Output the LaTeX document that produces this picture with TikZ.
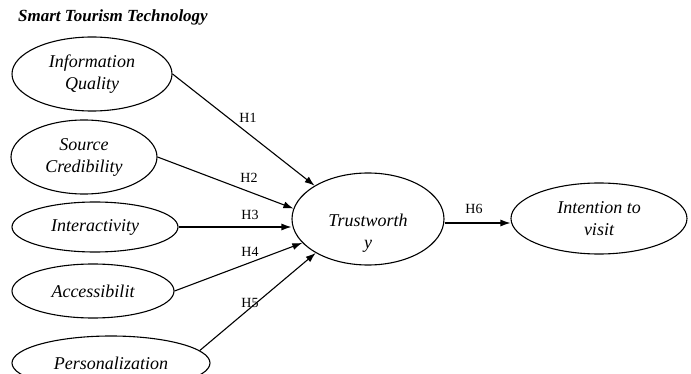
\documentclass[tikz,border=0pt]{standalone}
\usepackage{fontspec}
\setmainfont{Liberation Serif}
\usetikzlibrary{shapes.geometric,arrows.meta}

\tikzset{
  construct text/.style={align=center, font=\fontsize{18}{22}\selectfont\itshape},
  construct/.style={draw, ellipse, line width=1.1pt, inner sep=0pt, construct text},
  path link/.style={draw, line width=1.1pt, -{Latex[length=10pt,width=7pt]}},
  hyp/.style={font=\fontsize{14}{16}\selectfont, inner sep=0pt},
}

\begin{document}
\begin{tikzpicture}[x=1pt, y=-1pt]
  \useasboundingbox (0,0) rectangle (691,374);
  \clip (0,0) rectangle (691,374);

  \node[anchor=base west, inner sep=0pt,
        font=\fontsize{17}{20}\selectfont\bfseries\itshape] (title) at (18,22)
        {Smart Tourism Technology};

  % exogenous constructs
  \node[construct, minimum width=160pt, minimum height=74pt] (iq) at (92,74)
        {Information\\Quality};
  \node[construct, minimum width=146pt, minimum height=74pt] (sc) at (84,157)
        {Source\\Credibility};
  \node[construct, minimum width=166pt, minimum height=50pt] (ia) at (95,227)
        {Interactivity};
  \node[construct, minimum width=162pt, minimum height=54pt] (ac) at (93,291)
        {Accessibilit};
  \node[construct, minimum width=198pt, minimum height=54pt] (pe) at (111,363)
        {Personalization};

  % mediator (text sits low in the ellipse) and outcome
  \node[draw, ellipse, line width=1.1pt, inner sep=0pt,
        minimum width=152pt, minimum height=92pt,
        label={[construct text, yshift=-14pt]center:{Trustworth\\y}}] (tw) at (368,219) {};
  \node[construct, minimum width=176pt, minimum height=71pt] (iv) at (599,218.5)
        {Intention to\\visit};

  % hypothesised paths
  \draw[path link] (iq.east) -- (tw.148);
  \draw[path link] (sc.east) -- (tw.172);
  \draw[path link] (ia.east) -- (ia.east -| tw.west);
  \draw[path link] (ac.east) -- (tw.200);
  \draw[path link] (pe.8) -- (tw.213);
  \draw[path link] (tw.east) ++(0,4) coordinate (twout) -- (twout -| iv.west);

  % path labels
  \node[hyp] (h1) at (248,118) {H1};
  \node[hyp] (h2) at (249,178) {H2};
  \node[hyp] (h3) at (250,215) {H3};
  \node[hyp] (h4) at (250,252) {H4};
  \node[hyp] (h5) at (250,303) {H5};
  \node[hyp] (h6) at (474,209) {H6};
\end{tikzpicture}
\end{document}
